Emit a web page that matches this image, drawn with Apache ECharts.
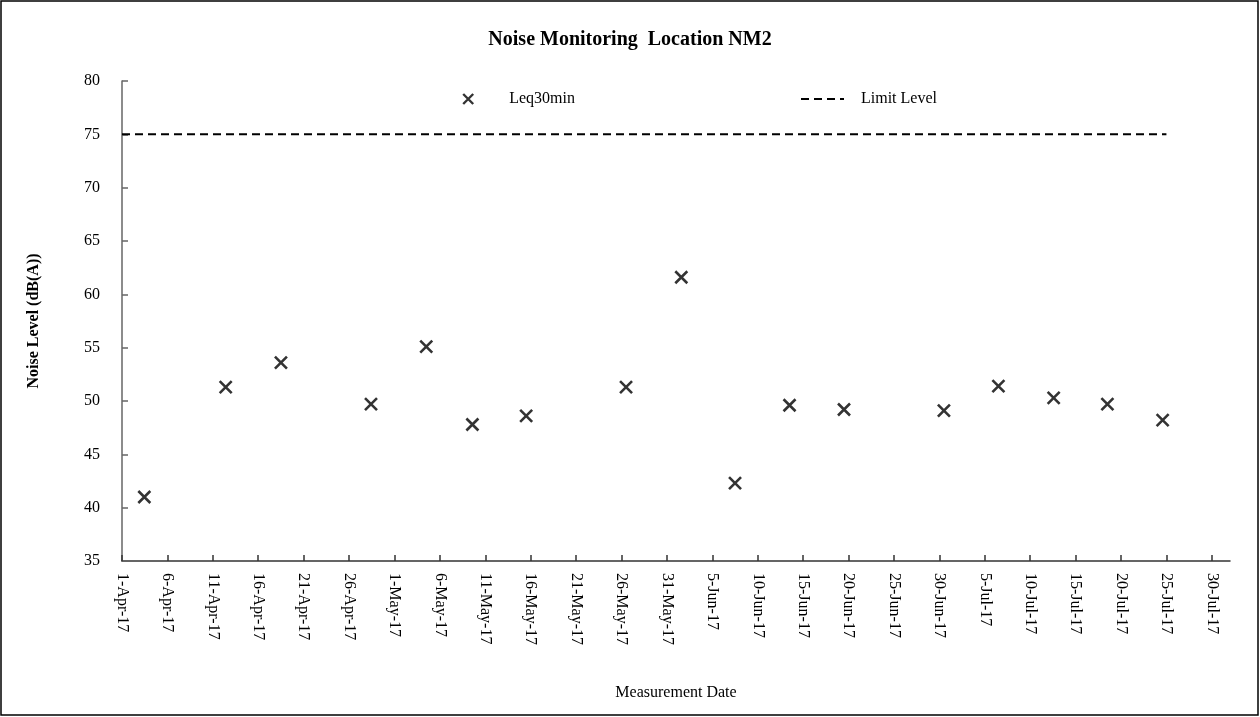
<!DOCTYPE html>
<html>
<head>
<meta charset="utf-8">
<script src="https://cdn.jsdelivr.net/npm/echarts@6/dist/echarts.min.js"></script>
<style>html,body{margin:0;padding:0;background:#fff}#c{width:1260px;height:717px}</style>
</head>
<body>
<div id="c"></div>
<script>
// ---- data ----
const measureDates = ['2017-04-03 11:00','2017-04-12 10:00','2017-04-18 12:00','2017-04-28 10:00','2017-05-04 12:00','2017-05-09 14:00','2017-05-15 12:00','2017-05-26 12:00','2017-06-01 14:00','2017-06-07 12:00','2017-06-13 12:00','2017-06-19 12:00','2017-06-30 12:00','2017-07-06 12:00','2017-07-12 14:00','2017-07-18 12:00','2017-07-24 14:00'];
const leq30min = [41.0, 51.3, 53.6, 49.7, 55.1, 47.8, 48.6, 51.3, 61.6, 42.3, 49.6, 49.2, 49.1, 51.4, 50.3, 49.7, 48.2];
const limitDates = ['2017-04-01 00:00','2017-07-25 00:00'];
const limitValues = [75, 75];
const xTickLabels = ['1-Apr-17','6-Apr-17','11-Apr-17','16-Apr-17','21-Apr-17','26-Apr-17','1-May-17','6-May-17','11-May-17','16-May-17','21-May-17','26-May-17','31-May-17','5-Jun-17','10-Jun-17','15-Jun-17','20-Jun-17','25-Jun-17','30-Jun-17','5-Jul-17','10-Jul-17','15-Jul-17','20-Jul-17','25-Jul-17','30-Jul-17'];
const xStartDate = '2017-04-01 00:00';
const xEndDate = '2017-08-01 00:00';
const xTickStepDays = 5;

// ---- helpers ----
function toDay(s){
  const [d,t] = s.split(' ');
  const [Y,M,D] = d.split('-').map(Number);
  const [h,m] = (t||'00:00').split(':').map(Number);
  const [Y0,M0,D0] = xStartDate.split(' ')[0].split('-').map(Number);
  return (Date.UTC(Y,M-1,D,h,m) - Date.UTC(Y0,M0-1,D0))/86400000;
}
const tickVals = xTickLabels.map((_,i)=>i*xTickStepDays);
const labelMap = {};
tickVals.forEach((v,i)=>{labelMap[v]=xTickLabels[i];});

const font = 'Liberation Serif';
const chart = echarts.init(document.getElementById('c'));
chart.setOption({
  animation:false,
  backgroundColor:'#fff',
  title:{
    text:'Noise Monitoring  Location NM2',
    left:'center', top:25,
    textStyle:{fontFamily:font,fontSize:20,fontWeight:'bold',color:'#000'}
  },
  legend:[
    {data:['Leq30min'],left:462,top:91,padding:0,itemWidth:10,itemHeight:10,
     itemStyle:{color:'rgba(0,0,0,0)',borderColor:'#000',borderWidth:2.4},
     textStyle:{fontFamily:font,fontSize:16,color:'#000',padding:[0,0,0,31]}},
    {data:['Limit Level'],left:800,top:91,padding:0,itemWidth:43,itemHeight:12,
     itemStyle:{opacity:0},
     lineStyle:{color:'#000',width:2,type:[8,5]},
     textStyle:{fontFamily:font,fontSize:16,color:'#000',padding:[0,0,0,12]}}
  ],
  grid:{left:122,right:30,top:81,bottom:156,containLabel:false},
  xAxis:{
    type:'value', min:0, max:toDay(xEndDate), interval:xTickStepDays,
    name:'Measurement Date', nameLocation:'middle', nameGap:124,
    nameTextStyle:{fontFamily:font,fontSize:16,color:'#000'},
    axisLine:{lineStyle:{color:'#333',width:1.5}},
    axisTick:{inside:true,length:6,customValues:tickVals,lineStyle:{color:'#333',width:1.5}},
    axisLabel:{customValues:tickVals,rotate:-90,margin:12,fontFamily:font,fontSize:16,color:'#000',
      formatter:v=>labelMap[v]||''},
    splitLine:{show:false}
  },
  yAxis:{
    type:'value', min:35, max:80, interval:5,
    name:'Noise Level (dB(A))', nameLocation:'middle', nameGap:80,
    nameTextStyle:{fontFamily:font,fontSize:16,fontWeight:'bold',color:'#000'},
    axisLine:{show:true,lineStyle:{color:'#666',width:1.5}},
    axisTick:{show:true,inside:true,length:6,lineStyle:{color:'#666',width:1.5}},
    axisLabel:{margin:22,fontFamily:font,fontSize:16,color:'#000'},
    splitLine:{show:false}
  },
  series:[
    {name:'Leq30min',type:'scatter',
     symbol:'path://M0,0L10,10M10,0L0,10',symbolSize:12,
     itemStyle:{color:'rgba(0,0,0,0)',borderColor:'#000',borderWidth:2.6},
     data:measureDates.map((d,i)=>[toDay(d),leq30min[i]])},
    {name:'Limit Level',type:'line',symbol:'none',
     lineStyle:{color:'#000',width:2,type:[8,5]},
     itemStyle:{color:'#000'},
     data:limitDates.map((d,i)=>[toDay(d),limitValues[i]])}
  ],
  graphic:[{type:'rect',shape:{x:1,y:1,width:1257,height:714},
    style:{fill:'none',stroke:'#000',lineWidth:1.5},silent:true}]
});
</script>
</body>
</html>
